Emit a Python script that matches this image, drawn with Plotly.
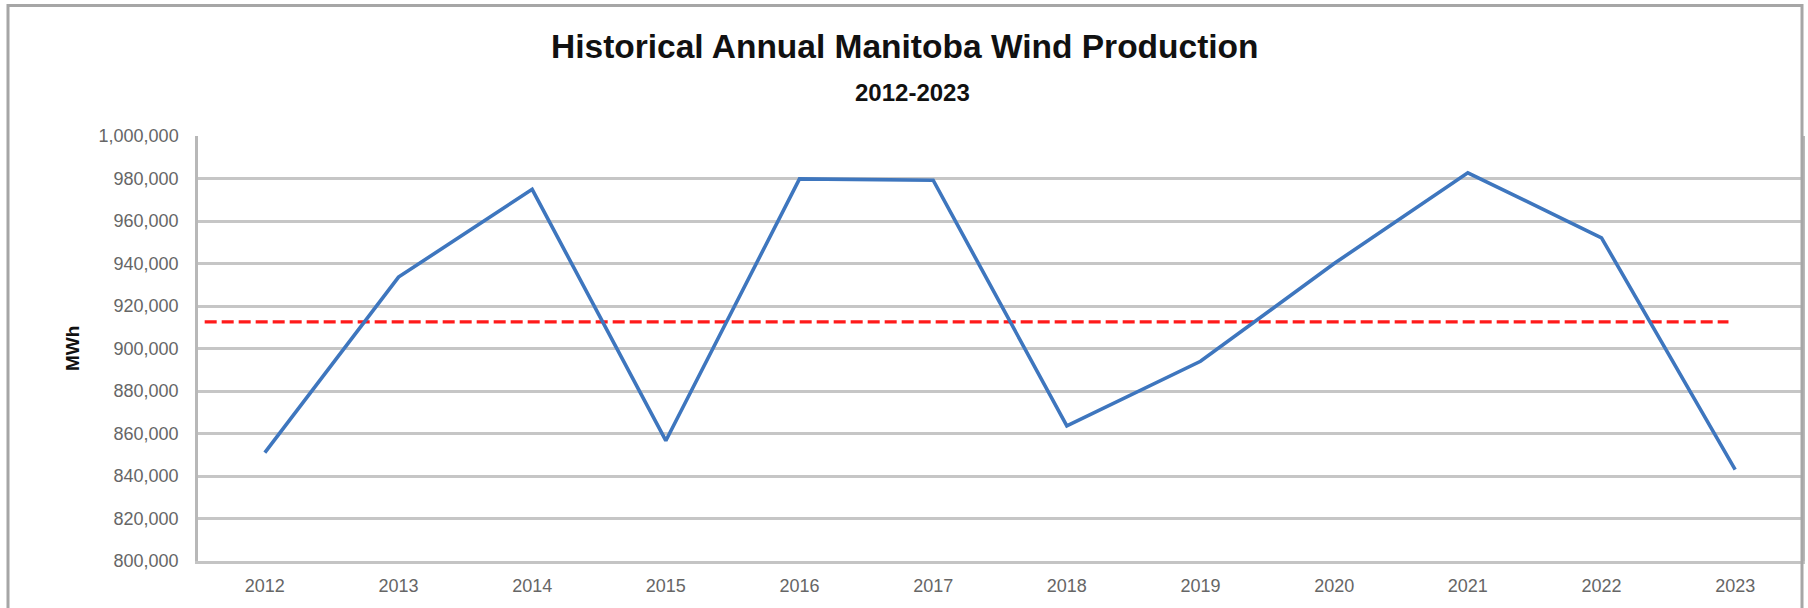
import plotly.graph_objects as go

years = ["2012", "2013", "2014", "2015", "2016", "2017", "2018", "2019", "2020", "2021", "2022", "2023"]
production_mwh = [851000, 933600, 974900, 856600, 979800, 979200, 863600, 894000, 940000, 982700, 952100, 843000]
average_mwh = 912500
y_ticks = list(range(800000, 1000001, 20000))
y_ticklabels = [f"{v:,}" for v in y_ticks]

title_text = "Historical Annual Manitoba Wind Production"
subtitle_text = "2012-2023"
y_title = "MWh"

W, H = 1808, 608
L, R, T, B = 198, 6, 136, 47
pw = W - L - R
ph = H - T - B

def px_x(px):
    return (px - L) / pw

def px_y(py):
    return (H - B - py) / ph

idx = list(range(len(years)))

fig = go.Figure()
fig.add_trace(go.Scatter(
    x=[-0.45, len(years) - 1.05], y=[average_mwh, average_mwh],
    mode="lines", line=dict(color="#ff1a1a", width=3.2, dash="12px,5px"),
    showlegend=False, hoverinfo="skip"))
fig.add_trace(go.Scatter(
    x=idx, y=production_mwh, mode="lines",
    line=dict(color="#3e76be", width=3.6),
    showlegend=False))

fig.update_layout(
    width=W, height=H,
    margin=dict(l=L, r=R, t=T, b=B, autoexpand=False),
    paper_bgcolor="white", plot_bgcolor="white",
    font=dict(family="Liberation Sans", color="#5f5f5f", size=18),
    xaxis=dict(range=[-0.5, len(years) - 0.5], tickvals=idx, ticktext=years,
               showgrid=False, zeroline=False, showline=True, linecolor="#c4c4c4",
               linewidth=3, ticks="", ticklabelstandoff=6,
               tickfont=dict(size=18, color="#666666")),
    yaxis=dict(range=[800000, 1000000], tickvals=y_ticks, ticktext=y_ticklabels,
               showgrid=True, gridcolor="#c6c6c6", gridwidth=3, zeroline=False,
               showline=True, linecolor="#b8b8b8", linewidth=2.5, mirror=True,
               ticks="", ticklabelstandoff=13,
               tickfont=dict(size=18, color="#666666")),
    annotations=[
        dict(text="<b>" + title_text + "</b>", xref="paper", yref="paper",
             x=px_x(905), y=px_y(46), xanchor="center", yanchor="middle",
             showarrow=False, font=dict(family="Liberation Sans", size=33.5, color="#111111")),
        dict(text="<b>" + subtitle_text + "</b>", xref="paper", yref="paper",
             x=px_x(912), y=px_y(92), xanchor="center", yanchor="middle",
             showarrow=False, font=dict(family="Liberation Sans", size=24, color="#111111")),
        dict(text="<b>" + y_title + "</b>", xref="paper", yref="paper",
             x=px_x(72), y=px_y(348), xanchor="center", yanchor="middle", textangle=-90,
             showarrow=False, font=dict(family="Liberation Sans", size=19, color="#111111")),
    ],
    shapes=[
        dict(type="rect", xref="paper", yref="paper",
             x0=px_x(8), x1=px_x(1802), y0=px_y(700), y1=px_y(5.5),
             line=dict(color="#a6a6a6", width=3), fillcolor="rgba(0,0,0,0)", layer="above"),
    ],
)

fig.write_html("out.html", config={"displayModeBar": False},
               post_script="document.body.style.margin='0px';document.body.style.overflow='hidden';")
